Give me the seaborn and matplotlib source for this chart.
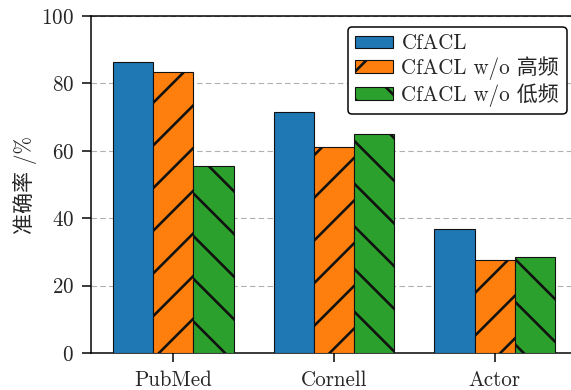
import matplotlib
matplotlib.use("Agg")
import matplotlib.pyplot as plt
import seaborn as sns
import pandas as pd

datasets = ["PubMed", "Cornell", "Actor"]
variants = ["CfACL", "CfACL w/o 高频", "CfACL w/o 低频"]
acc_full = [86.4, 71.6, 36.7]
acc_no_high = [83.5, 61.1, 27.5]
acc_no_low = [55.6, 64.9, 28.6]

colors = ["#1f77b4", "#ff7f0e", "#2ca02c"]
hatches = ["", "/", "\\"]

DPI = 128
PX = 72 / DPI  # one pixel in points

sns.set_theme(style="ticks")
plt.rcParams["font.family"] = ["cmr10", "Noto Sans CJK SC"]
plt.rcParams["axes.formatter.use_mathtext"] = True
plt.rcParams["axes.unicode_minus"] = False
plt.rcParams["font.size"] = 21 * PX
plt.rcParams["hatch.linewidth"] = 2.6 * PX

df = pd.DataFrame({
    "dataset": datasets * 3,
    "variant": [variants[0]] * 3 + [variants[1]] * 3 + [variants[2]] * 3,
    "acc": acc_full + acc_no_high + acc_no_low,
})

fig = plt.figure(figsize=(571 / DPI, 390 / DPI), dpi=DPI)
ax = fig.add_axes([91 / 571, 37 / 390, 486 / 571, 337 / 390])

sns.barplot(data=df, x="dataset", y="acc", hue="variant", order=datasets,
            hue_order=variants, palette=colors, width=0.75, saturation=1,
            edgecolor="#111111", linewidth=1.1 * PX, legend=False, ax=ax, zorder=3)

for cont, h in zip(ax.containers, hatches):
    for p in cont.patches:
        p.set_hatch(h)

fs = 21 * PX
ax.set_xlim(-0.5125, 2.5125)
ax.set_ylim(0, 100)
ax.set_yticks([0, 20, 40, 60, 80, 100])
ax.set_xlabel("")
ax.set_ylabel("准确率 /%", fontsize=fs, labelpad=4 * PX)
ax.tick_params(axis="both", labelsize=fs, color="black",
               length=9 * PX, width=1.5 * PX, pad=8 * PX)
ax.yaxis.grid(True, color="#b0b0b0", linewidth=1.1 * PX, dashes=(5, 3), zorder=0)
ax.set_axisbelow(True)
for side in ["left", "bottom", "top"]:
    ax.spines[side].set_color("black")
    ax.spines[side].set_linewidth(1.5 * PX)
ax.spines["right"].set_visible(False)

leg = ax.legend(ax.containers, variants, loc="upper right", fontsize=fs,
                frameon=True, fancybox=True, framealpha=1, edgecolor="black",
                labelspacing=0.15, handlelength=1.8, handleheight=0.55,
                handletextpad=0.4, borderpad=0.35)
leg.get_frame().set_linewidth(1.5 * PX)

fig.savefig("out.png", dpi=DPI)
